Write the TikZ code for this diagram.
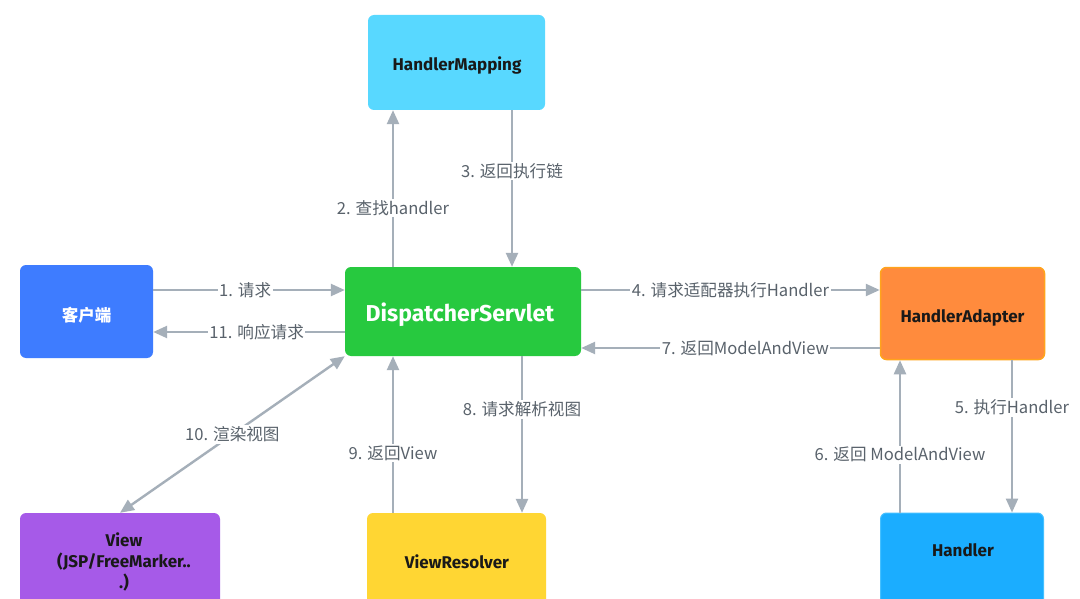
\documentclass[tikz,border=0pt]{standalone}
\usepackage{fontspec}
\setmainfont{Fira Sans}
\newfontfamily\cjk{Noto Sans CJK SC}
\usetikzlibrary{arrows.meta}

\definecolor{arrowgray}{HTML}{A5AFB9}
\definecolor{labelgray}{HTML}{59626B}
\definecolor{cHM}{HTML}{58D8FF}
\definecolor{cClient}{HTML}{3E7CFF}
\definecolor{cDS}{HTML}{27C93F}
\definecolor{cHA}{HTML}{FF8B3D}
\definecolor{cHAborder}{HTML}{FFA41C}
\definecolor{cView}{HTML}{A65AE8}
\definecolor{cVR}{HTML}{FFD633}
\definecolor{cH}{HTML}{1BADFF}
\definecolor{cHborder}{HTML}{45C0FF}

\tikzset{
  box/.style={rounded corners=6pt, inner sep=0pt, anchor=center},
  boxtext/.style={font=\fontsize{17}{21}\selectfont\bfseries, text=black!90, align=center},
  flow/.style={draw=arrowgray, line width=2.4pt,
    -{Triangle[length=14pt,width=12pt]}},
  flowboth/.style={flow, {Triangle[length=14pt,width=12pt]}-{Triangle[length=14pt,width=12pt]}},
  lbl/.style={fill=white, inner sep=1.5pt, text=labelgray,
    font=\cjk\fontsize{16.6}{18}\selectfont},
}

\begin{document}
\begin{tikzpicture}[x=1pt, y=-1pt]
\useasboundingbox (0,0) rectangle (1080,599);
\fill[white] (0,0) rectangle (1080,599);
\clip (0,0) rectangle (1080,599);

% components
\node[box, fill=cHM, minimum width=177pt, minimum height=95pt] (hm) at (456.5,62.5) {};
\node[boxtext] (hm-t) at (457,65) {HandlerMapping};

\node[box, fill=cClient, minimum width=133pt, minimum height=93pt] (cl) at (86.5,311.5) {};
\node[boxtext, text=white, font=\cjk\bfseries\fontsize{16.5}{20}\selectfont] (cl-t) at (86.5,315) {客户端};

\node[box, fill=cDS, minimum width=236pt, minimum height=89pt] (ds) at (463,311.5) {};
\node[boxtext, text=white, font=\fontsize{23}{26}\selectfont\bfseries] (ds-t) at (460,315) {DispatcherServlet};

\node[box, fill=cHA, draw=cHAborder, line width=1.5pt, minimum width=164pt, minimum height=92pt] (ha) at (962.5,313.5) {};
\node[boxtext] (ha-t) at (962.5,318) {HandlerAdapter};

\node[box, fill=cView, minimum width=200pt, minimum height=107pt] (view) at (120,566.5) {};
\node[boxtext] (view-t) at (124,562) {View\\(JSP/FreeMarker..\\.)};

\node[box, fill=cVR, minimum width=179pt, minimum height=107pt] (vr) at (456.5,566.5) {};
\node[boxtext] (vr-t) at (457,562) {ViewResolver};

\node[box, fill=cH, draw=cHborder, line width=1pt, minimum width=163pt, minimum height=107pt] (hd) at (962,566.5) {};
\node[boxtext] (hd-t) at (963,550) {Handler};

% request / response with the client
\draw[flow] ([yshift=21.5pt]cl.east) -- node[lbl, pos=0.48] (l1) {1. 请求} ([yshift=21.5pt]ds.west);
\draw[flow] ([yshift=-20.5pt]ds.west) -- node[lbl, pos=0.46] (l11) {11. 响应请求} ([yshift=-20.5pt]cl.east);

% handler lookup
\draw[flow] ([xshift=-70pt]ds.north) -- node[lbl, pos=0.376] (l2) {2. 查找handler} ([xshift=-63.5pt]hm.south);
\draw[flow] ([xshift=55.5pt]hm.south) -- node[lbl, pos=0.39] (l3) {3. 返回执行链} ([xshift=49pt]ds.north);

% adapter
\draw[flow] ([yshift=21.5pt]ds.east) -- node[lbl, pos=0.5] (l4) {4. 请求适配器执行Handler} ([yshift=23.5pt]ha.west);
\draw[flow] ([yshift=-34.5pt]ha.west) -- node[lbl, pos=0.45] (l7) {7. 返回ModelAndView} ([yshift=-36.5pt]ds.east);

% handler execution
\draw[flow] ([xshift=49.5pt]ha.south) -- node[lbl, pos=0.31] (l5) {5. 执行Handler} ([xshift=50pt]hd.north);
\draw[flow] ([xshift=-62pt]hd.north) -- node[lbl, pos=0.38] (l6) {6. 返回 ModelAndView} ([xshift=-62.5pt]ha.south);

% view resolution
\draw[flow] ([xshift=59pt]ds.south) -- node[lbl, pos=0.34] (l8) {8. 请求解析视图} ([xshift=65.5pt]vr.north);
\draw[flow] ([xshift=-63.5pt]vr.north) -- node[lbl, pos=0.38] (l9) {9. 返回View} ([xshift=-70pt]ds.south);

% rendering
\draw[flowboth] (ds.south west) -- node[lbl, pos=0.5] (l10) {10. 渲染视图} (view.north);
\end{tikzpicture}
\end{document}
